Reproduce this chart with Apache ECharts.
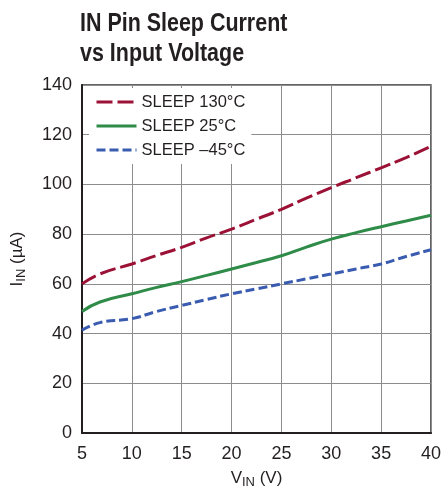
<!DOCTYPE html>
<html><head><meta charset="utf-8">
<script src="https://cdn.jsdelivr.net/npm/echarts@6/dist/echarts.min.js"></script>
<style>html,body{margin:0;padding:0;background:#fff}#c{width:444px;height:494px}</style>
</head><body><div id="c"></div>
<script>
const titleLines = ["IN Pin Sleep Current", "vs Input Voltage"];
const seriesNames = ["SLEEP 130°C", "SLEEP 25°C", "SLEEP –45°C"];
const vin = [5, 6.8, 10, 12.4, 15, 17.5, 20, 22.5, 25, 27.5, 30, 32.5, 35, 37.5, 40];
const sleep130 = [60, 64, 68, 71.3, 74.7, 78.5, 82, 86, 90, 94.5, 98.7, 102.7, 106.7, 110.8, 115.3];
const sleep25 = [48.9, 52.7, 56, 58.5, 60.9, 63.4, 66, 68.6, 71.3, 74.8, 78, 80.6, 83, 85.3, 87.6];
const sleepM45 = [41.3, 44.4, 46, 48.8, 51.3, 53.7, 56, 58, 60, 62, 64, 66, 68, 71, 73.7];
const xTicks = [5, 10, 15, 20, 25, 30, 35, 40];
const yTicks = [0, 20, 40, 60, 80, 100, 120, 140];

const pair = (xs, ys) => xs.map((x, i) => [x, ys[i]]);
const colors = ['#9c1236', '#2e8b48', '#3a5cb0'];
const dashes = [[16, 5], 'solid', [9, 4]];
const datas = [sleep130, sleep25, sleepM45];
const F = '"Liberation Sans", Arial, sans-serif';

const chart = echarts.init(document.getElementById('c'), null, {renderer: 'canvas'});
chart.setOption({
  animation: false,
  backgroundColor: '#fff',
  graphic: titleLines.map((t, i) => ({
    type: 'text', left: 80, top: 11 + i * 30, scaleX: 0.825, originX: 0,
    style: {text: t, font: 'bold 26px "Liberation Sans", Arial, sans-serif', fill: '#231f20'}
  })),
  grid: {left: 82, right: 11, top: 85, bottom: 59, show: true, borderColor: '#333', borderWidth: 1.5, backgroundColor: 'transparent'},
  legend: {
    orient: 'vertical', left: 89, top: 88,
    backgroundColor: '#fff', padding: [4, 6, 4, 6],
    itemWidth: 40, itemHeight: 14, itemGap: 4, itemTextGap: 6,
    itemStyle: {opacity: 0},
    lineStyle: {width: 3},
    textStyle: {fontFamily: F, fontSize: 16.5, color: '#231f20', lineHeight: 20},
    data: seriesNames
  },
  xAxis: {
    type: 'value', min: 5, max: 40, interval: 5,
    name: '{m|V}{s|IN}{m| (V)}', nameLocation: 'middle', nameGap: 35,
    nameTextStyle: {rich: {m: {fontFamily: F, fontSize: 17, color: '#231f20'}, s: {fontFamily: F, fontSize: 13, color: '#231f20', verticalAlign: 'bottom', padding: [8, 0, 0, 0]}}},
    axisLine: {show: true, lineStyle: {color: '#231f20', width: 2}},
    axisTick: {show: false},
    splitLine: {show: true, lineStyle: {color: '#8c8c8c', width: 1}},
    axisLabel: {fontFamily: F, fontSize: 18, color: '#231f20', margin: 12,
      formatter: v => xTicks.includes(v) ? String(v) : ''}
  },
  yAxis: {
    type: 'value', min: 0, max: 140, interval: 20,
    name: '{m|I}{s|IN}{m| (µA)}', nameLocation: 'middle', nameGap: 54,
    nameTextStyle: {rich: {m: {fontFamily: F, fontSize: 17, color: '#231f20'}, s: {fontFamily: F, fontSize: 13, color: '#231f20', verticalAlign: 'bottom', padding: [8, 0, 0, 0]}}},
    axisLine: {show: true, lineStyle: {color: '#231f20', width: 2}},
    axisTick: {show: false},
    splitLine: {show: true, lineStyle: {color: '#8c8c8c', width: 1}},
    axisLabel: {fontFamily: F, fontSize: 18, color: '#231f20', margin: 10,
      formatter: v => yTicks.includes(v) ? String(v) : ''}
  },
  series: seriesNames.map((n, i) => ({
    name: n, type: 'line', smooth: 0.5, symbol: 'none',
    data: pair(vin, datas[i]),
    lineStyle: {color: colors[i], width: 3, type: dashes[i]},
    itemStyle: {color: colors[i]},
    z: 3 - i
  }))
});
</script></body></html>
